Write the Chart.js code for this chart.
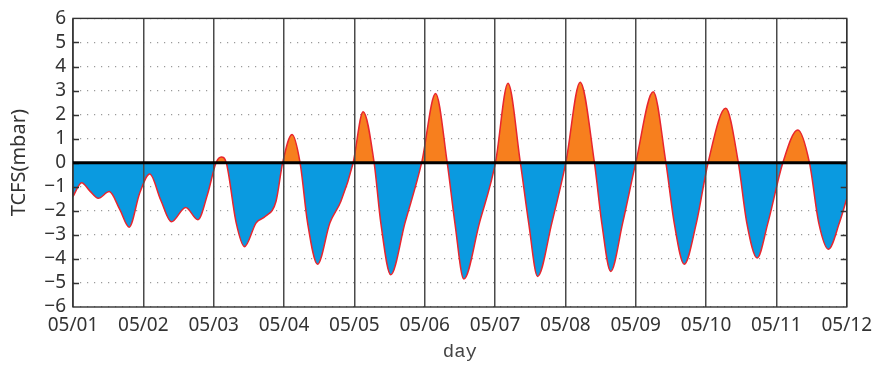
<!DOCTYPE html>
<html>
<head>
<meta charset="utf-8">
<script src="https://cdn.jsdelivr.net/npm/chart.js@4"></script>
<style>
  html, body { margin: 0; padding: 0; background: #fff; }
  #tcfs { display: block; }
</style>
</head>
<body>
<canvas id="tcfs" width="879" height="365"></canvas>
<script>
// time in days since 05/01 00:00
const dayOffsets = [
  0, 0.123, 0.241, 0.359, 0.515, 0.666, 0.798, 0.950,
  1.091, 1.247, 1.399, 1.602, 1.776, 1.914,
  2.034, 2.108, 2.179, 2.320, 2.438, 2.604, 2.736, 2.887, 2.981,
  3.114, 3.228, 3.335, 3.477, 3.653, 3.809, 3.983,
  4.125, 4.281, 4.376, 4.517, 4.720, 4.957,
  5.155, 5.320, 5.429, 5.556, 5.779,
  6.006, 6.184, 6.360, 6.478, 6.605, 6.808,
  7.006, 7.210, 7.413, 7.517, 7.644, 7.815,
  8.001, 8.249, 8.429, 8.547, 8.689, 8.863,
  9.029, 9.280, 9.459, 9.579, 9.726, 9.880,
  10.092, 10.305, 10.470, 10.602, 10.740, 10.896, 11.0
];

// TCFS (mbar)
const tcfs = [
  -1.41, -0.83, -1.18, -1.48, -1.20, -1.95, -2.68, -1.25,
  -0.47, -1.55, -2.46, -1.86, -2.37, -1.30,
  0, 0.24, 0, -2.5, -3.49, -2.5, -2.23, -1.6, 0,
  1.17, 0, -2.5, -4.22, -2.5, -1.6, 0,
  2.12, 0, -2.5, -4.66, -2.5, 0,
  2.88, 0, -2.5, -4.84, -2.5,
  0, 3.30, 0, -2.5, -4.73, -2.5,
  0, 3.35, 0, -2.5, -4.52, -2.5,
  0, 2.95, 0, -2.5, -4.22, -2.5,
  0, 2.26, 0, -2.5, -3.96, -2.5,
  0, 1.36, 0, -2.5, -3.60, -2.5, -1.5
];

const dayLabels = ['05/01', '05/02', '05/03', '05/04', '05/05', '05/06',
                   '05/07', '05/08', '05/09', '05/10', '05/11', '05/12'];
const yMin = -6;
const yMax = 6;

const labelFont = { family: 'Noto Sans', size: 19 };

// frame, inward ticks and the heavy zero line
const framePlugin = {
  id: 'frame',
  afterDraw(chart) {
    const { ctx, chartArea: a, scales: { y } } = chart;
    ctx.save();
    ctx.strokeStyle = '#333';
    ctx.lineWidth = 1.4;
    ctx.strokeRect(a.left, a.top, a.right - a.left, a.bottom - a.top);
    ctx.lineWidth = 1.5;
    for (let v = yMin + 1; v < yMax; v++) {
      const py = Math.round(y.getPixelForValue(v)) + 0.5;
      ctx.beginPath();
      ctx.moveTo(a.left, py);
      ctx.lineTo(a.left + 6, py);
      ctx.moveTo(a.right, py);
      ctx.lineTo(a.right - 6, py);
      ctx.stroke();
    }
    const zy = y.getPixelForValue(0);
    ctx.strokeStyle = '#000';
    ctx.lineWidth = 3;
    ctx.beginPath();
    ctx.moveTo(a.left, zy);
    ctx.lineTo(a.right, zy);
    ctx.stroke();
    ctx.restore();
  }
};

new Chart(document.getElementById('tcfs'), {
  type: 'line',
  data: {
    datasets: [{
      data: dayOffsets.map((d, i) => ({ x: d, y: tcfs[i] })),
      borderColor: '#e8262e',
      borderWidth: 1.5,
      pointRadius: 0,
      cubicInterpolationMode: 'monotone',
      fill: { target: { value: 0 }, above: '#f77f1e', below: '#0a9ae0' }
    }]
  },
  options: {
    responsive: false,
    animation: false,
    events: [],
    layout: { padding: { top: 15, right: 30, left: 0, bottom: 0 } },
    plugins: { legend: { display: false }, tooltip: { enabled: false } },
    scales: {
      x: {
        type: 'linear',
        min: 0,
        max: 11,
        afterFit: (s) => { s.height = 58; },
        ticks: {
          stepSize: 1,
          autoSkip: false,
          maxRotation: 0,
          padding: 7,
          color: '#333',
          font: labelFont,
          callback: (v) => dayLabels[v]
        },
        grid: { color: '#4a4a4a', lineWidth: 1.5, drawTicks: false, z: 1 },
        border: { display: false },
        title: {
          display: true,
          text: 'day',
          color: '#444',
          font: { family: 'Liberation Mono', size: 19 },
          padding: { top: 0, bottom: 2 }
        }
      },
      y: {
        min: yMin,
        max: yMax,
        afterFit: (s) => { s.width = 73; },
        ticks: {
          stepSize: 1,
          autoSkip: false,
          padding: 7,
          color: '#333',
          font: labelFont,
          callback: (v) => (v < 0 ? '\u2212' + Math.abs(v) : String(v))
        },
        grid: { color: '#9a9a9a', lineWidth: 1.2, drawTicks: false },
        border: { display: false, dash: [1.2, 5.8] },
        title: {
          display: true,
          text: 'TCFS(mbar)',
          color: '#333',
          font: { family: 'Noto Sans', size: 20 },
          padding: { top: 7, bottom: 0 }
        }
      }
    }
  },
  plugins: [framePlugin]
});
</script>
</body>
</html>
